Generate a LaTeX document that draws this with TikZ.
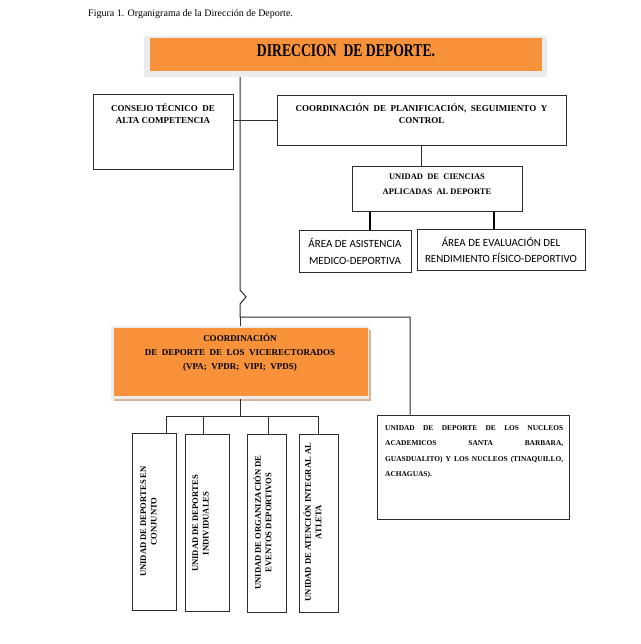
\documentclass[tikz,border=0pt]{standalone}
\usepackage{fontspec}
\setmainfont{Liberation Serif}
\newfontfamily\calib{Carlito}
\definecolor{orgorange}{RGB}{247,146,58}
\definecolor{framegray}{RGB}{236,236,236}
\definecolor{shadowtan}{RGB}{214,180,148}
\definecolor{linegray}{RGB}{45,45,45}
\begin{document}
\begin{tikzpicture}[x=1pt,y=-1pt,
  box/.style={draw=linegray, line width=1pt, inner sep=0pt},
  conn/.style={draw=linegray, line width=1pt},
  thickconn/.style={draw=black, line width=1.7pt},
  ttl/.style={font=\bfseries\fontsize{9}{12}\selectfont, align=center, inner sep=0pt},
  vtxt/.style={font=\bfseries\fontsize{8.6}{10.5}\selectfont, align=center, inner sep=0pt, rotate=90},
  areatxt/.style={font=\calib\fontsize{11}{16.5}\selectfont, align=center, inner sep=0pt}
]
\useasboundingbox[fill=white] (0,0) rectangle (640,644);

% caption
\node[anchor=west, inner sep=0pt, font=\fontsize{10}{12}\selectfont] (cap) at (88,14) {Figura 1. Organigrama de la Dirección de Deporte.};

% title
\node[fill=framegray, minimum width=403pt, minimum height=41pt, inner sep=0pt] (titleframe) at (345.5,56.5) {};
\node[fill=orgorange, minimum width=392pt, minimum height=33pt, inner sep=0pt] (title) at (346,54.5) {};
\node[inner sep=0pt] (titletxt) at (346,51) {\scalebox{0.76}[1]{\bfseries\fontsize{18}{20}\selectfont DIRECCION\ \ DE DEPORTE.}};

% consejo
\node[box, minimum width=140pt, minimum height=75pt] (consejo) at (163,132.5) {};
\node[ttl] (consejotxt) at (163,113.5) {CONSEJO TÉCNICO\ \ DE\\ALTA COMPETENCIA};

% coordinacion planificacion
\node[box, minimum width=289pt, minimum height=50pt] (coord) at (421.5,121) {};
\node[ttl] (coordtxt) at (421.5,114) {COORDINACIÓN\ \ DE\ \ PLANIFICACIÓN,\ \ SEGUIMIENTO\ \ Y\\CONTROL};

% unidad ciencias
\node[box, minimum width=170pt, minimum height=44pt] (unidad) at (437,189) {};
\node[ttl, font=\bfseries\fontsize{8.5}{15}\selectfont] (unidadtxt) at (437,184) {UNIDAD\ \ DE\ \ CIENCIAS\\APLICADAS\ \ AL DEPORTE};

% areas
\node[box, minimum width=112pt, minimum height=42pt] (asist) at (355,251) {};
\node[areatxt] (asisttxt) at (355,251.5) {ÁREA DE ASISTENCIA\\MEDICO-DEPORTIVA};
\node[box, minimum width=168pt, minimum height=41pt] (evalu) at (501,249.5) {};
\node[areatxt] (evalutxt) at (501,250) {ÁREA DE EVALUACIÓN DEL\\RENDIMIENTO FÍSICO-DEPORTIVO};

% vicerrectorados
\fill[shadowtan] (114,330) rectangle (371,401);
\node[fill=framegray, minimum width=258pt, minimum height=73pt, inner sep=0pt] (viceframe) at (240,362.5) {};
\node[fill=orgorange, minimum width=254pt, minimum height=68pt, inner sep=0pt] (vice) at (240.5,362) {};
\node[ttl, font=\bfseries\fontsize{9}{14}\selectfont] (vicetxt) at (240,352.5) {COORDINACIÓN\\DE\ \ DEPORTE\ \ DE\ \ LOS\ \ VICERECTORADOS\\(VPA;\ \ VPDR;\ \ VIPI;\ \ VPDS)};

% nucleos
\node[box, minimum width=192pt, minimum height=104pt] (nuc) at (473,467) {};
\node[anchor=north west, inner sep=0pt, align=left, font=\bfseries\fontsize{7.4}{15.3}\selectfont] (nuctxt) at (385,425.5) {%
\makebox[178pt][l]{UNIDAD\hfill DE\hfill DEPORTE\hfill DE\hfill LOS\hfill NUCLEOS}\\
\makebox[178pt][l]{ACADEMICOS\hfill SANTA\hfill BARBARA,}\\
\makebox[178pt][l]{GUASDUALITO)\hfill Y\hfill LOS\hfill NUCLEOS\hfill (TINAQUILLO,}\\
ACHAGUAS).};

% vertical units
\node[box, minimum width=44pt, minimum height=177pt] (v1) at (154,521.5) {};
\node[box, minimum width=44pt, minimum height=177pt] (v2) at (207,522.5) {};
\node[box, minimum width=39pt, minimum height=178pt] (v3) at (266.5,523) {};
\node[box, minimum width=39pt, minimum height=178pt] (v4) at (318.5,523) {};
\node[vtxt] (v1txt) at (148.5,521.5) {UNIDAD DE DEPORTES EN\\CONJUNTO};
\node[vtxt] (v2txt) at (200.5,523.5) {UNIDAD DE DEPORTES\\INDIVIDUALES};
\node[vtxt] (v3txt) at (262.5,522.5) {UNIDAD DE ORGANIZACIÓN DE\\EVENTOS DEPORTIVOS};
\node[vtxt] (v4txt) at (312.5,522) {UNIDAD DE ATENCIÓN INTEGRAL AL\\ATLETA};

% connectors
\coordinate (spJ) at (240,317);
\coordinate (nucJ) at (410,317);
\coordinate (br) at (240,416);
\draw[conn] (titleframe.south -| spJ) -- (240,290) -- (246,297) -- (240,304) -- (spJ) -- (nucJ) -- (nucJ |- nuc.north);
\draw[conn] (spJ) -- (viceframe.north -| spJ);
\draw[conn] (consejo.east |- coord.west) -- (coord.west);
\draw[conn] (coord.south) -- (coord.south |- unidad.north);
\draw[thickconn] ([xshift=-67pt]unidad.south) -- ([xshift=-67pt]unidad.south |- asist.north);
\draw[thickconn] ([xshift=57pt]unidad.south) -- ([xshift=57pt]unidad.south |- evalu.north);
\draw[conn] (viceframe.south -| br) -- (br);
\draw[conn] ([xshift=12pt]v1.north) -- ([xshift=12pt]v1.north |- br) -- (v4.north |- br) -- (v4.north);
\draw[conn] ([xshift=-4pt]v2.north) -- ([xshift=-4pt]v2.north |- br);
\draw[conn] ([xshift=1.5pt]v3.north) -- ([xshift=1.5pt]v3.north |- br);
\end{tikzpicture}
\end{document}
